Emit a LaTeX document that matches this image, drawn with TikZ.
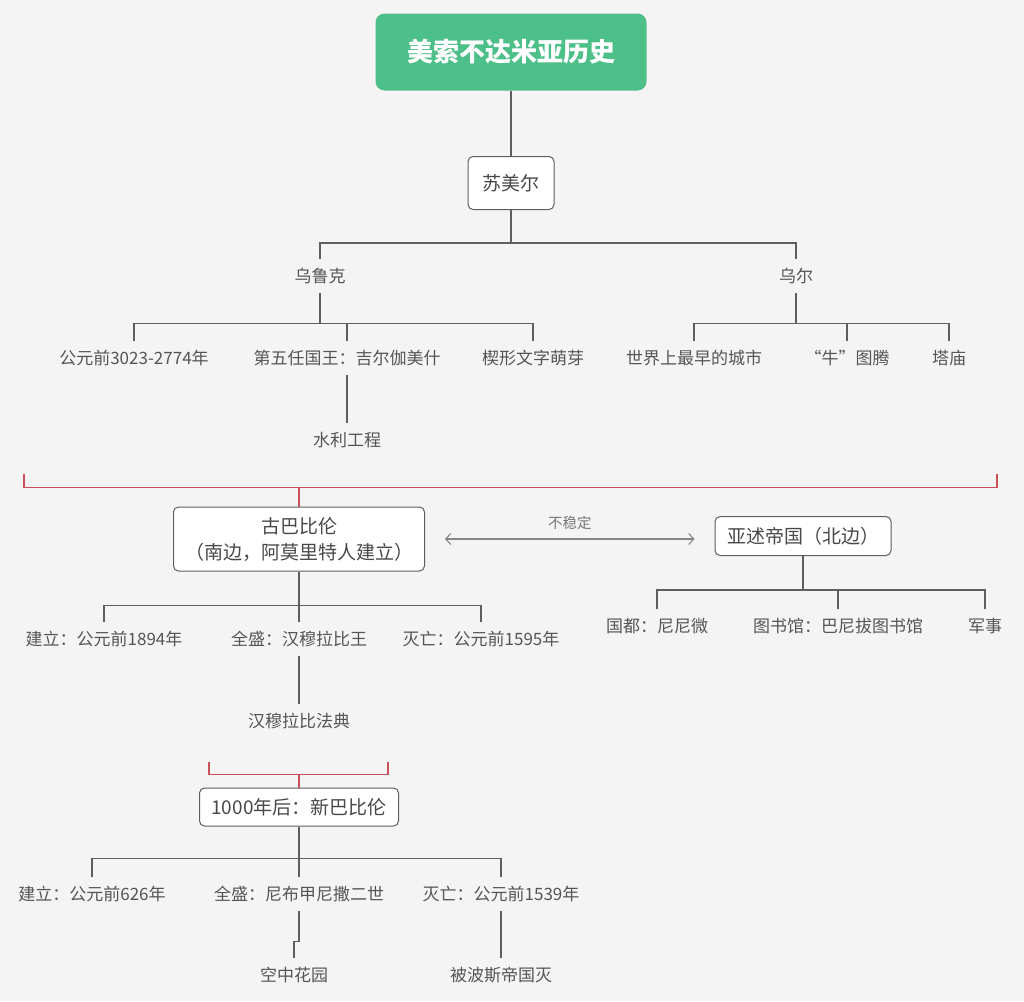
\documentclass[tikz,border=0pt]{standalone}
\usepackage{fontspec}
\setmainfont{Noto Sans CJK SC}
\usepackage{tikz}
\usetikzlibrary{positioning}
\usetikzlibrary{arrows.meta}
\definecolor{bg}{HTML}{F5F4F5}
\definecolor{topgreen}{HTML}{4DBF88}
\definecolor{edge}{HTML}{5E5E5E}
\definecolor{txt}{HTML}{555555}
\definecolor{redline}{HTML}{C9505A}
\tikzset{%
  root/.style = {rectangle,rounded corners=9pt,fill=topgreen,text=white,
        font=\bfseries\fontsize{26}{30}\selectfont,
        minimum width=271pt,minimum height=77pt},
  bx/.style = {rectangle,rounded corners=5pt,draw=edge,line width=1pt,
        fill=white,text=txt!85!black,align=center,inner sep=0pt,
        font=\fontsize{19}{26}\selectfont},
  lf/.style = {text=txt,font=\fontsize{17}{20}\selectfont,
        minimum height=34pt,inner sep=0pt},
  ln/.style = {draw=edge,line width=1.2pt},
  rln/.style = {draw=redline,line width=1.2pt},
  twoway/.style = {{Straight Barb[length=5pt,width=11pt]}-{Straight Barb[length=5pt,width=11pt]},
        draw=edge!75,line width=1.1pt}
}

\begin{document}
\begin{tikzpicture}[node distance=80pt and 100pt,on grid]
\useasboundingbox[fill=bg] (0,0) rectangle (1024pt,-1001pt);

% Sumer
\node[root] (mesop) at (511pt,-52pt) {美索不达米亚历史};
\node[bx,minimum width=86pt,minimum height=53pt] (sumer) [below=131pt of mesop] {苏美尔};
\node[lf] (uruk) [below left=93pt and 191pt of sumer] {乌鲁克};
\node[lf] (ur) [below right=93pt and 285pt of sumer] {乌尔};
\node[lf] (uruk1) [below left=82pt and 186pt of uruk] {公元前3023-2774年};
\node[lf] (uruk2) [below right=82pt and 27pt of uruk] {第五任国王：吉尔伽美什};
\node[lf] (uruk3) [below right=82pt and 213pt of uruk] {楔形文字萌芽};
\node[lf] (uruk2a) [below=82pt of uruk2] {水利工程};
\node[lf] (ur1) [below left=82pt and 102pt of ur] {世界上最早的城市};
\node[lf] (ur2) [below right=82pt and 51pt of ur] {“牛”图腾};
\node[lf] (ur3) [below right=82pt and 153pt of ur] {塔庙};

% Babylon and Assyria
\node[bx,minimum width=251pt,minimum height=64pt] (oldbab) [below left=263pt and 21pt of uruk] {古巴比伦\\（南边，阿莫里特人建立）};
\node[bx,minimum width=176pt,minimum height=39pt] (assyria) [above right=3pt and 504pt of oldbab] {亚述帝国（北边）};
\node[lf] (ob1) [below left=100pt and 195pt of oldbab] {建立：公元前1894年};
\node[lf] (ob2) [below=100pt of oldbab] {全盛：汉穆拉比王};
\node[lf] (ob3) [below right=100pt and 182pt of oldbab] {灭亡：公元前1595年};
\node[lf] (ob2a) [below=82pt of ob2] {汉穆拉比法典};
\node[lf] (as1) [below left=90pt and 146pt of assyria] {国都：尼尼微};
\node[lf] (as2) [below right=90pt and 35pt of assyria] {图书馆：巴尼拔图书馆};
\node[lf] (as3) [below right=90pt and 182pt of assyria] {军事};

% New Babylon
\node[bx,minimum width=199pt,minimum height=38pt] (newbab) [below=86pt of ob2a] {1000年后：新巴比伦};
\node[lf] (nb1) [below left=87pt and 207pt of newbab] {建立：公元前626年};
\node[lf] (nb2) [below=87pt of newbab] {全盛：尼布甲尼撒二世};
\node[lf] (nb3) [below right=87pt and 202pt of newbab] {灭亡：公元前1539年};
\node[lf] (nb2a) [below left=81pt and 5pt of nb2] {空中花园};
\node[lf] (nb3a) [below=81pt of nb3] {被波斯帝国灭};

\draw[ln,line width=1.8pt] (mesop) -- (sumer);
\draw[ln] (sumer.south) -- +(0,-33pt) coordinate (sumerbar);
\draw[ln] (sumerbar) -| (uruk.north);
\draw[ln] (sumerbar) -| (ur.north);
\draw[ln] (uruk.south) -- +(0,-30pt) coordinate (urukbar);
\draw[ln] (urukbar) -| (uruk1.north);
\draw[ln] (urukbar) -| (uruk2.north);
\draw[ln] (urukbar) -| (uruk3.north);
\draw[ln] (uruk2) -- (uruk2a);
\draw[ln] (ur.south) -- +(0,-30pt) coordinate (urbar);
\draw[ln] (urbar) -| (ur1.north);
\draw[ln] (urbar) -| (ur2.north);
\draw[ln] (urbar) -| (ur3.north);

\draw[rln] (oldbab.north) -- +(0,19pt) coordinate (oldbar);
\draw[rln] (oldbar) -- +(-275pt,0) -- +(-275pt,14pt);
\draw[rln] (oldbar) -- +(698pt,0) -- +(698pt,14pt);
\draw[twoway] ([xshift=20pt]oldbab.east) -- ([xshift=-20pt]assyria.west |- oldbab.east)
    node[midway,above=5pt,text=txt!80,font=\fontsize{14.5}{17}\selectfont] {不稳定};
\draw[ln] (oldbab.south) -- +(0,-34pt) coordinate (oldbabbar);
\draw[ln] (oldbabbar) -| (ob1.north);
\draw[ln] (oldbabbar) -| (ob2.north);
\draw[ln] (oldbabbar) -| (ob3.north);
\draw[ln] (ob2) -- (ob2a);
\draw[ln] (assyria.south) -- +(0,-34pt) coordinate (assyriabar);
\draw[ln] (assyriabar) -| (as1.north);
\draw[ln] (assyriabar) -| (as2.north);
\draw[ln] (assyriabar) -| (as3.north);

\draw[rln] (newbab.north) -- +(0,13pt) coordinate (newbar);
\draw[rln] (newbar) -- +(-90pt,0) -- +(-90pt,13pt);
\draw[rln] (newbar) -- +(89pt,0) -- +(89pt,13pt);
\draw[ln] (newbab.south) -- +(0,-32pt) coordinate (newbabbar);
\draw[ln] (newbabbar) -| (nb1.north);
\draw[ln] (newbabbar) -| (nb2.north);
\draw[ln] (newbabbar) -| (nb3.north);
\draw[ln] (nb2.south) -- +(0,-30pt) -| (nb2a.north);
\draw[ln] (nb3) -- (nb3a);
\end{tikzpicture}
\end{document}
